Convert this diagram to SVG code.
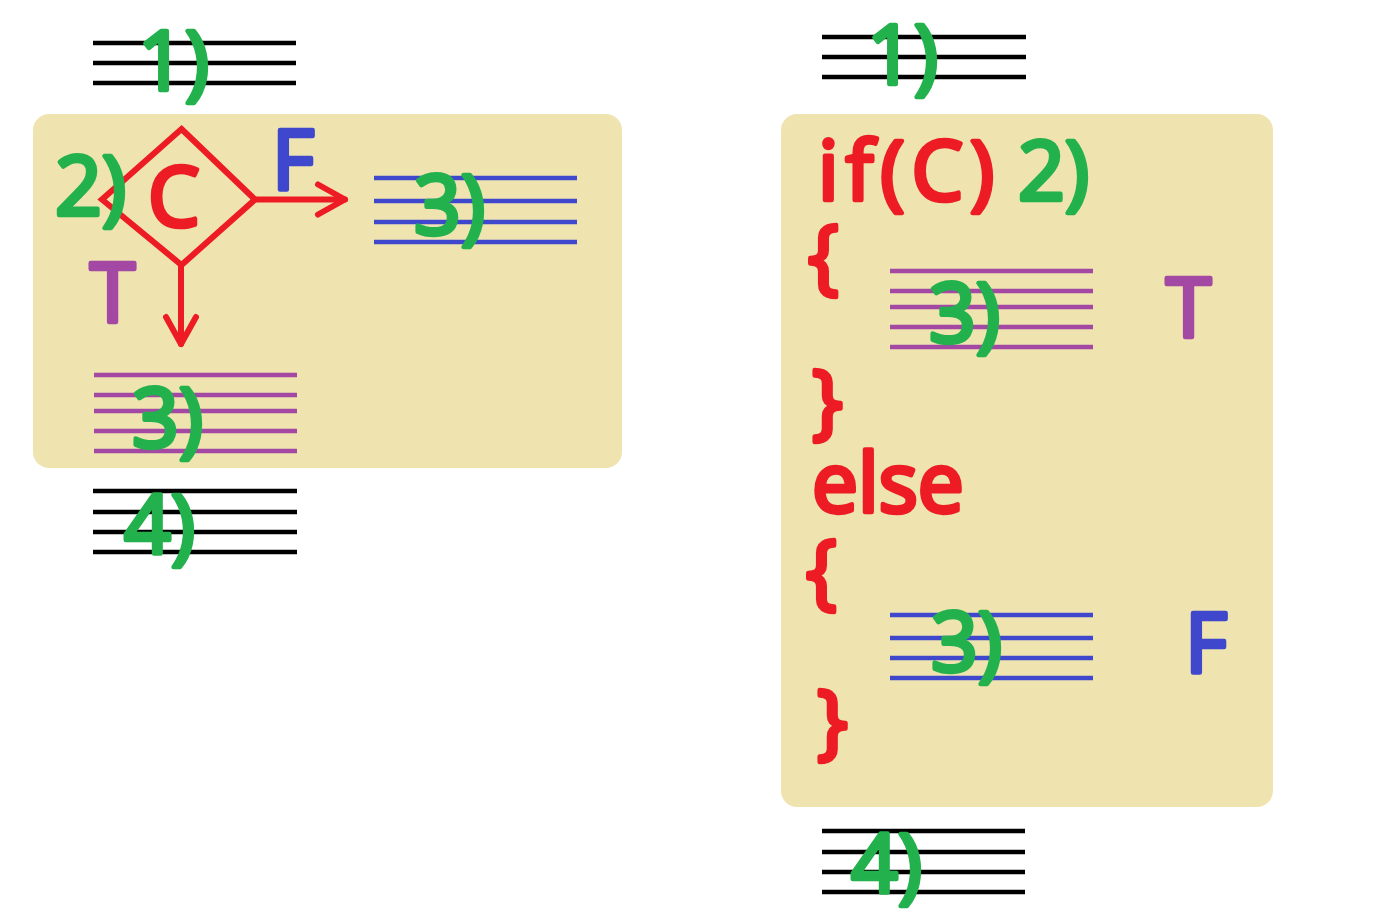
<svg xmlns="http://www.w3.org/2000/svg" width="1382" height="916" viewBox="0 0 1382 916">
<style>
.panel{fill:#EFE4B0}
.blk{stroke:#000;stroke-width:4.5}
.pur{stroke:#A349A4;stroke-width:4.5}
.blu{stroke:#3F48CC;stroke-width:4.5}
.t{font-family:"Open Sans","DejaVu Sans",sans-serif;font-weight:normal;font-size:82px;stroke-linejoin:round;stroke-linecap:round;stroke-width:4.5}
.g{fill:#22B14C;stroke:#22B14C}
.r{fill:#ED1C24;stroke:#ED1C24}
.b{fill:#3F48CC;stroke:#3F48CC}
.p{fill:#A349A4;stroke:#A349A4}
.red{stroke:#ED1C24;stroke-width:6;fill:none;stroke-linejoin:miter;stroke-linecap:round}
</style>
<defs>
<marker id="arr" markerUnits="userSpaceOnUse" viewBox="-32 -20 36 40" markerWidth="36" markerHeight="40" refX="0" refY="0" orient="auto">
<path d="M-27,-15 L0,0 L-27,15" fill="none" stroke="#ED1C24" stroke-width="6" stroke-linecap="round" stroke-linejoin="round"/>
</marker>
</defs>
<rect width="1382" height="916" fill="#fff"/>

<g id="left-flowchart">
<g id="left-step1">
<line class="blk" x1="93" y1="43" x2="296" y2="43"/>
<line class="blk" x1="93" y1="63" x2="296" y2="63"/>
<line class="blk" x1="93" y1="83" x2="296" y2="83"/>
<text class="t g" x="138" y="90">1)</text>
</g>
<rect id="left-panel" class="panel" x="33" y="114" width="589" height="354" rx="16"/>
<g id="left-decision">
<polygon class="red" points="181.5,129 255,199.5 181.5,265 102,199.5"/>
<text class="t r" x="148" y="226">C</text>
<text class="t g" x="55" y="215">2)</text>
</g>
<g id="left-false-branch">
<line class="blu" x1="374" y1="178" x2="577" y2="178"/>
<line class="blu" x1="374" y1="201" x2="577" y2="201"/>
<line class="blu" x1="374" y1="222" x2="577" y2="222"/>
<line class="blu" x1="374" y1="242" x2="577" y2="242"/>
<text class="t g" x="414" y="234">3)</text>
</g>
<g id="left-true-branch">
<line class="pur" x1="94" y1="375" x2="297" y2="375"/>
<line class="pur" x1="94" y1="395" x2="297" y2="395"/>
<line class="pur" x1="94" y1="411" x2="297" y2="411"/>
<line class="pur" x1="94" y1="431" x2="297" y2="431"/>
<line class="pur" x1="94" y1="451" x2="297" y2="451"/>
<text class="t g" x="132" y="447">3)</text>
</g>
<g id="left-step4">
<line class="blk" x1="93" y1="491" x2="297" y2="491"/>
<line class="blk" x1="93" y1="512" x2="297" y2="512"/>
<line class="blk" x1="93" y1="532" x2="297" y2="532"/>
<line class="blk" x1="93" y1="552" x2="297" y2="552"/>
<text class="t g" x="124" y="554">4)</text>
</g>
<g id="connectors">
<line class="red" x1="255" y1="199.5" x2="345" y2="199.5" marker-end="url(#arr)"/>
<line class="red" x1="181" y1="265" x2="181" y2="344" marker-end="url(#arr)"/>
<text class="t b" x="272" y="189">F</text>
<text class="t p" x="90" y="322">T</text>
</g>
</g>

<g id="right-code">
<g id="right-step1">
<line class="blk" x1="822" y1="37" x2="1026" y2="37"/>
<line class="blk" x1="822" y1="57" x2="1026" y2="57"/>
<line class="blk" x1="822" y1="77" x2="1026" y2="77"/>
<text class="t g" x="867" y="84">1)</text>
</g>
<rect id="right-panel" class="panel" x="781" y="114" width="492" height="693" rx="16"/>
<g id="right-if">
<text class="t r" x="818" y="200" letter-spacing="7">if(C)</text>
<text class="t g" x="1018" y="200">2)</text>
<text class="t r" x="808" y="284">{</text>
</g>
<g id="right-true-branch">
<line class="pur" x1="890" y1="271" x2="1093" y2="271"/>
<line class="pur" x1="890" y1="291" x2="1093" y2="291"/>
<line class="pur" x1="890" y1="307" x2="1093" y2="307"/>
<line class="pur" x1="890" y1="327" x2="1093" y2="327"/>
<line class="pur" x1="890" y1="347" x2="1093" y2="347"/>
<text class="t g" x="929" y="342">3)</text>
<text class="t p" x="1166" y="337">T</text>
</g>
<g id="right-else">
<text class="t r" x="812" y="429">}</text>
<text class="t r" x="812" y="512">else</text>
<text class="t r" x="806" y="599">{</text>
</g>
<g id="right-false-branch">
<line class="blu" x1="890" y1="615" x2="1093" y2="615"/>
<line class="blu" x1="890" y1="638" x2="1093" y2="638"/>
<line class="blu" x1="890" y1="658" x2="1093" y2="658"/>
<line class="blu" x1="890" y1="678" x2="1093" y2="678"/>
<text class="t g" x="931" y="671">3)</text>
<text class="t b" x="1185" y="672">F</text>
<text class="t r" x="817" y="749">}</text>
</g>
<g id="right-step4">
<line class="blk" x1="822" y1="831" x2="1025" y2="831"/>
<line class="blk" x1="822" y1="852" x2="1025" y2="852"/>
<line class="blk" x1="822" y1="872" x2="1025" y2="872"/>
<line class="blk" x1="822" y1="892" x2="1025" y2="892"/>
<text class="t g" x="851" y="893">4)</text>
</g>
</g>
</svg>
